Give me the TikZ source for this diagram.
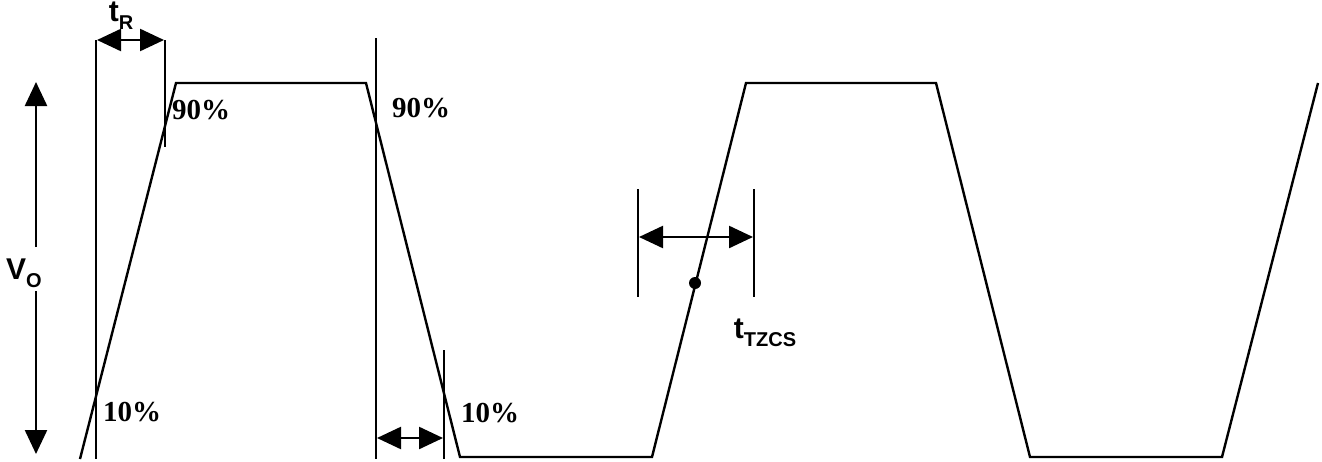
\documentclass[tikz,border=0pt]{standalone}
\usepackage{fontspec}
\setmainfont{Liberation Serif}
\setsansfont{Liberation Sans}
\usetikzlibrary{arrows.meta}
\newcommand{\sublbl}[3]{{\sffamily\bfseries\fontsize{#3}{#3}\selectfont #1\raisebox{-0.28em}{\fontsize{20}{20}\selectfont #2}}}
\tikzset{
  wave/.style={line width=2.4pt, line join=miter},
  marker/.style={line width=2.4pt},
  dim/.style={line width=2.4pt, {Triangle[length=24pt,width=22pt]}-{Triangle[length=24pt,width=22pt]}},
  pct/.style={font=\bfseries\fontsize{29}{29}\selectfont, inner sep=0pt},
  lbl/.style={inner sep=0pt}
}
\begin{document}
\begin{tikzpicture}[x=1pt,y=-1pt]
\useasboundingbox (0,0) rectangle (1322,461);
% waveform
\draw[wave] (80,459) -- (176,83) -- (366,83) -- (460,457) -- (652,457) -- (746,83) -- (936,83) -- (1030,457) -- (1222,457) -- (1318,83);
% marker lines
\coordinate (a1) at (96,40);   \coordinate (a2) at (96,459);
\coordinate (b1) at (165,40);  \coordinate (b2) at (165,147);
\coordinate (c1) at (376,38);  \coordinate (c2) at (376,459);
\coordinate (d1) at (444,350); \coordinate (d2) at (444,459);
\coordinate (e1) at (638,189); \coordinate (e2) at (638,297);
\coordinate (f1) at (754,189); \coordinate (f2) at (754,297);
\draw[marker] (a1) -- (a2);
\draw[marker] (b1) -- (b2);
\draw[marker] (c1) -- (c2);
\draw[marker] (d1) -- (d2);
\draw[marker] (e1) -- (e2);
\draw[marker] (f1) -- (f2);
% dimension arrows
\coordinate (tr1) at (97,40);  \coordinate (tr2) at (164,40);
\coordinate (tf1) at (377,438); \coordinate (tf2) at (443,438);
\coordinate (tz1) at (639,237); \coordinate (tz2) at (753,237);
\draw[dim] (tr1) -- (tr2);
\draw[dim] (tf1) -- (tf2);
\draw[dim] (tz1) -- (tz2);
% Vo arrow
\node[lbl] (vo) at (24,273) {\sublbl{V}{O}{30}};
\coordinate (vtop) at (36,82);
\coordinate (vbot) at (36,454);
\draw[line width=2.4pt,-{Triangle[length=24pt,width=22pt]}] (36,247) -- (vtop);
\draw[line width=2.4pt,-{Triangle[length=24pt,width=22pt]}] (36,291) -- (vbot);
% dot
\fill (695,283) circle (6pt);
% labels
\node[lbl] (tr) at (121,16) {\sublbl{t}{R}{30}};
\node[lbl] (tz) at (765,333) {\sublbl{t}{TZCS}{30}};
\node[pct] (p90a) at (201,110) {90\%};
\node[pct] (p90b) at (421,108) {90\%};
\node[pct] (p10a) at (132,412) {10\%};
\node[pct] (p10b) at (490,413) {10\%};
\end{tikzpicture}
\end{document}
